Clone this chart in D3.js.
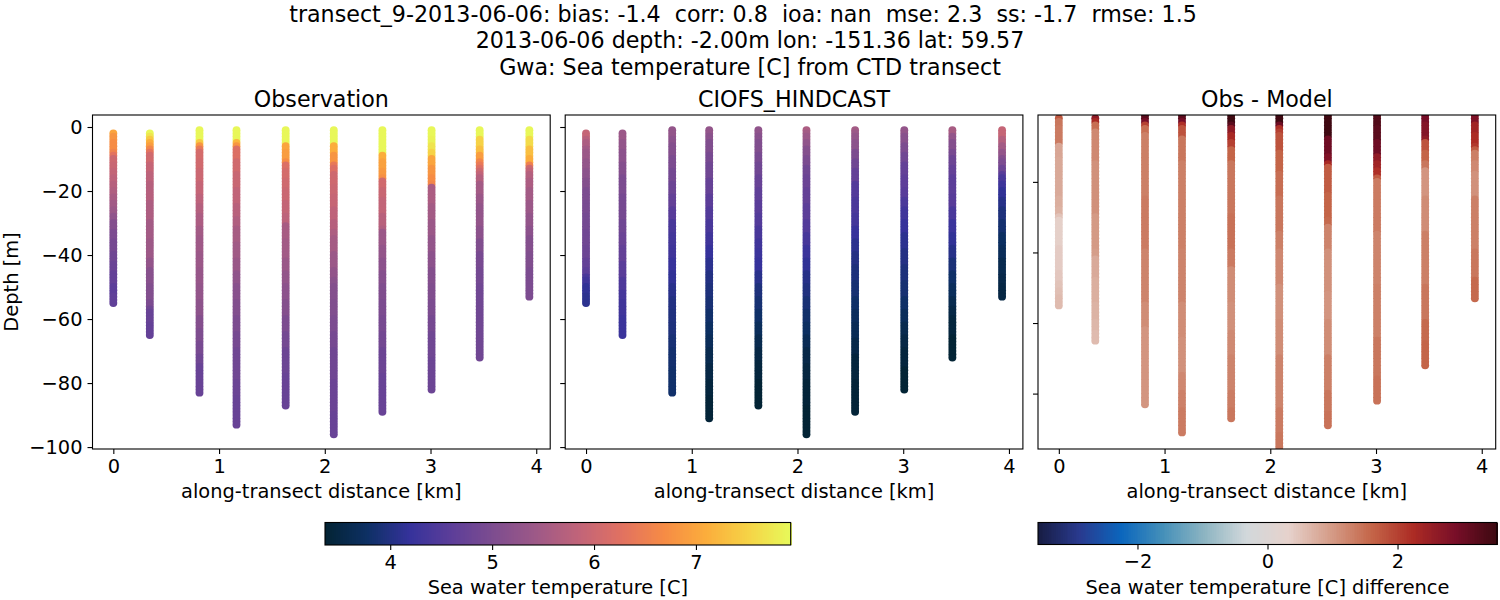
<!DOCTYPE html>
<html><head><meta charset="utf-8">
<script src="https://cdn.jsdelivr.net/npm/d3@7/dist/d3.min.js"></script>
<style>html,body{margin:0;padding:0;background:#fff}svg text{font-family:"DejaVu Sans";fill:#000}</style>
</head><body><svg id="c" width="1500" height="600"></svg>
<script>
const titleLines = ["transect_9-2013-06-06: bias: -1.4  corr: 0.8  ioa: nan  mse: 2.3  ss: -1.7  rmse: 1.5","2013-06-06 depth: -2.00m lon: -151.36 lat: 59.57","Gwa: Sea temperature [C] from CTD transect"];
const panelTitles = ["Observation","CIOFS_HINDCAST","Obs - Model"];
const stationKm = [0,0.345,0.815,1.165,1.63,2.085,2.545,3.01,3.465,3.935];
const xTicks = [0,1,2,3,4];
const yTicks = [0,-20,-40,-60,-80,-100];
const diffYTicks = [-20,-40,-60,-80];
const tempTicks = [4,5,6,7];
const diffTicks = [-2,0,2];
const thermalStops = ["rgb(3,35,51)","rgb(13,48,100)","rgb(53,50,155)","rgb(93,62,153)","rgb(126,77,143)","rgb(158,89,135)","rgb(193,100,121)","rgb(225,113,97)","rgb(246,139,69)","rgb(251,173,60)","rgb(246,211,70)","rgb(231,250,90)"];
const balanceStops = ["rgb(23,28,66)","rgb(41,58,143)","rgb(11,102,189)","rgb(69,144,185)","rgb(142,181,194)","rgb(210,216,219)","rgb(230,210,204)","rgb(213,157,137)","rgb(196,101,72)","rgb(172,43,36)","rgb(120,14,40)","rgb(60,9,17)"];
// station profiles: [depth from which the reading holds, value]
const topDepth = [2,2,1,1,1,1,1,1,1,1];
const obsBottom = [55,65,83,93,87,96,89,82,72,53];
const modelBottom = [55,65,83,91,87,96,89,82,72,53];
const diffBottom = [55,65,83,91,87,96,89,82,72,53];
const obsProfiles = [
[[2,7.0],[3,6.8],[5,6.7],[8,6.55],[9,6.3],[10,6.0],[12,5.95],[14,5.88],[16,5.8],[18,5.72],[20,5.65],[22,5.56],[24,5.48],[26,5.4],[28,5.25],[30,5.1],[33,5.0],[36,4.92],[40,4.85],[43,4.78],[46,4.7],[50,4.6],[53,4.65]],
[[2,7.9],[3,7.7],[4,7.4],[5,7.1],[6,6.9],[7,6.6],[8,6.3],[9,6.05],[12,5.9],[15,5.8],[18,5.72],[24,5.62],[30,5.5],[36,5.42],[42,5.3],[45,5.15],[50,5.08],[55,5.0],[57,4.85],[58,4.75],[62,4.7]],
[[1,7.9],[5,7.4],[6,6.8],[7,6.4],[8,6.1],[11,6.05],[14,5.98],[18,5.9],[22,5.8],[25,5.7],[28,5.6],[32,5.5],[35,5.45],[40,5.4],[45,5.35],[50,5.3],[55,5.22],[60,5.1],[64,5.02],[68,4.95],[72,4.85],[75,4.75]],
[[1,7.9],[5,7.2],[6,6.8],[7,6.2],[11,6.05],[15,5.95],[20,5.85],[25,5.75],[29,5.65],[32,5.55],[37,5.47],[42,5.38],[46,5.25],[50,5.15],[55,5.08],[60,5.0],[65,4.92],[70,4.85],[80,4.78],[85,4.75]],
[[1,7.9],[6,7.0],[8,6.9],[11,6.7],[12,6.2],[14,6.1],[17,6.03],[20,5.97],[24,5.88],[28,5.8],[31,5.55],[36,5.48],[42,5.38],[46,5.3],[50,5.2],[55,5.1],[60,5.0],[65,4.9],[70,4.8],[78,4.75]],
[[1,7.9],[6,7.1],[9,6.8],[12,6.4],[13,6.2],[15,6.02],[19,5.97],[22,5.92],[26,5.83],[30,5.72],[33,5.62],[35,5.52],[40,5.4],[45,5.28],[48,5.18],[50,5.1],[55,5.05],[60,5.0],[65,4.92],[70,4.85],[80,4.78],[90,4.75]],
[[1,7.9],[9,7.1],[11,6.95],[14,6.85],[16,6.75],[17,6.05],[20,5.95],[23,5.87],[28,5.75],[32,5.65],[33,5.4],[38,5.3],[42,5.2],[46,5.12],[50,5.05],[55,5.0],[60,4.95],[65,4.88],[70,4.8],[78,4.75]],
[[1,7.9],[4,7.85],[6,7.7],[8,7.5],[10,7.0],[13,6.8],[16,6.7],[18,6.6],[19,5.6],[25,5.5],[30,5.4],[35,5.3],[40,5.2],[45,5.1],[50,5.05],[55,5.0],[60,4.92],[65,4.85],[73,4.8]],
[[1,7.9],[4,7.5],[7,7.3],[9,6.9],[11,6.6],[12,6.4],[13,6.2],[14,6.0],[15,5.85],[16,5.7],[18,5.5],[22,5.38],[25,5.3],[32,5.2],[36,5.05],[40,4.95],[45,4.9],[50,4.85]],
[[1,7.9],[4,7.6],[7,7.3],[10,7.1],[12,6.5],[13,6.0],[14,5.85],[15,5.7],[17,5.6],[20,5.5],[24,5.4],[28,5.3],[32,5.2],[35,5.1],[40,5.05],[45,5.0]]
];
const modelProfiles = [
[[2,5.9],[4,5.75],[5,5.6],[7,5.48],[8,5.4],[11,5.3],[14,5.2],[17,5.1],[20,5.0],[24,4.95],[28,4.9],[33,4.85],[38,4.8],[42,4.7],[45,4.6],[47,4.4],[48,4.3],[50,4.15],[53,4.1]],
[[2,5.4],[5,5.3],[8,5.2],[12,5.1],[16,5.0],[22,4.92],[30,4.85],[34,4.78],[38,4.7],[43,4.58],[48,4.45],[52,4.37],[55,4.3],[60,4.25]],
[[1,5.3],[4,5.2],[6,5.1],[10,5.0],[14,4.9],[18,4.8],[22,4.7],[26,4.55],[30,4.4],[34,4.35],[38,4.3],[42,4.22],[46,4.15],[50,4.07],[54,4.0],[58,3.97],[62,3.95],[66,3.9],[70,3.85],[76,3.82]],
[[1,5.3],[3,5.18],[5,5.05],[9,4.95],[12,4.85],[17,4.72],[22,4.6],[26,4.5],[30,4.4],[34,4.3],[38,4.2],[42,4.1],[46,4.0],[50,3.95],[54,3.9],[58,3.82],[62,3.75],[66,3.68],[70,3.6],[75,3.52],[80,3.45],[85,3.4]],
[[1,5.25],[3,5.15],[5,5.05],[9,4.95],[12,4.85],[16,4.75],[20,4.65],[24,4.58],[28,4.5],[32,4.4],[36,4.3],[39,4.25],[42,4.2],[46,4.07],[50,3.95],[54,3.88],[58,3.8],[62,3.7],[66,3.6],[70,3.52],[74,3.45],[80,3.38]],
[[1,5.6],[2,5.5],[3,5.4],[5,5.25],[7,5.1],[10,4.98],[13,4.85],[16,4.78],[20,4.7],[25,4.6],[30,4.5],[34,4.38],[38,4.25],[42,4.15],[46,4.05],[50,3.98],[54,3.9],[58,3.82],[62,3.75],[66,3.65],[70,3.55],[75,3.48],[80,3.42],[88,3.38]],
[[1,5.5],[2,5.4],[3,5.3],[5,5.2],[8,5.0],[11,4.85],[14,4.7],[18,4.5],[23,4.42],[28,4.35],[32,4.22],[36,4.1],[40,4.02],[44,3.95],[49,3.88],[54,3.8],[58,3.72],[62,3.65],[67,3.55],[72,3.45],[80,3.4]],
[[1,5.3],[3,5.15],[6,5.0],[9,4.85],[12,4.7],[16,4.62],[20,4.55],[23,4.42],[26,4.3],[30,4.2],[34,4.1],[39,4.02],[44,3.95],[49,3.88],[54,3.8],[58,3.7],[62,3.6],[66,3.52],[70,3.45],[76,3.38]],
[[1,5.55],[3,5.3],[5,5.1],[8,4.95],[10,4.8],[13,4.7],[16,4.6],[22,4.55],[26,4.4],[30,4.25],[34,4.15],[38,4.05],[42,3.92],[46,3.8],[50,3.7],[54,3.6],[57,3.52],[60,3.45],[66,3.38]],
[[1,5.9],[4,5.7],[6,5.5],[8,5.3],[10,5.1],[11,5.0],[13,4.8],[15,4.55],[16,4.4],[18,4.28],[20,4.15],[23,4.05],[26,3.95],[30,3.85],[34,3.75],[38,3.68],[42,3.6],[47,3.55],[50,3.5]]
];
const diffProfiles = [
[[1,1.75],[3,1.4],[5,1.35],[10,0.85],[14,0.82],[20,0.8],[25,0.75],[28,0.7],[30,0.5],[31,0.35],[39,0.4],[46,0.45],[49,0.5],[51,0.55],[53,0.6]],
[[1,2.9],[2,2.6],[3,2.3],[4,1.5],[6,1.2],[15,1.1],[30,1.0],[40,0.95],[42,0.8],[48,0.75],[55,0.7],[60,0.65],[63,0.6]],
[[1,3.4],[2,3.2],[3,2.9],[4,2.0],[5,1.5],[7,1.3],[25,1.35],[40,1.25],[55,1.15],[62,1.05]],
[[1,3.4],[2,3.2],[3,2.9],[4,2.2],[5,1.8],[8,1.4],[15,1.3],[40,1.25],[55,1.15],[65,1.1],[75,1.2],[80,1.28],[85,1.35]],
[[1,3.5],[4,3.2],[5,2.6],[7,2.3],[9,2.0],[11,1.6],[15,1.4],[30,1.45],[40,1.35],[45,1.15],[55,1.1],[63,1.18],[70,1.25],[80,1.33],[85,1.4]],
[[1,3.5],[4,3.0],[5,2.2],[6,2.0],[7,1.8],[12,1.6],[18,1.5],[25,1.4],[35,1.3],[40,1.2],[50,1.1],[60,1.15],[70,1.25],[85,1.35],[92,1.4]],
[[1,3.5],[8,3.0],[13,2.8],[15,2.3],[16,1.7],[24,1.6],[31,1.55],[33,1.25],[40,1.1],[52,1.05],[60,1.15],[70,1.3],[80,1.4],[86,1.45]],
[[1,3.3],[5,3.2],[9,3.0],[13,2.6],[15,2.4],[17,2.2],[19,1.7],[20,1.35],[35,1.25],[50,1.3],[65,1.4],[76,1.45]],
[[1,2.9],[4,2.75],[8,2.6],[9,1.8],[12,1.6],[15,1.4],[17,1.05],[25,1.15],[35,1.3],[50,1.4],[60,1.55],[66,1.6]],
[[1,2.8],[4,2.4],[7,2.25],[10,2.1],[11,1.7],[12,1.3],[15,1.2],[18,1.1],[25,1.3],[40,1.4],[48,1.55]]
];

const svg = d3.select("#c");
const PW = 457.7, PT = 115, PB = 449, PX = [92.5,565.2,1038];
const thermal = d3.scaleLinear().domain(d3.range(12).map(i=>3.36+i*(7.93-3.36)/11)).range(thermalStops).clamp(true);
const balance = d3.scaleLinear().domain(d3.range(12).map(i=>-3.53+i*7.06/11)).range(balanceStops).clamp(true);
const TICK = "19.4px", LAB = "19.4px", HEAD = "22.2px";

titleLines.forEach((t,i)=>svg.append("text").attr("x",[743,750,750][i]).attr("y",[22,48,75][i]).attr("text-anchor","middle").style("font-size",HEAD).style("white-space","pre").attr("xml:space","preserve").text(t));

const panels = [
 {prof:obsProfiles,bottom:obsBottom,color:thermal,dom:[-100.6,3.75],ticks:yTicks,labels:true},
 {prof:modelProfiles,bottom:modelBottom,color:thermal,dom:[-100.6,3.75],ticks:yTicks,labels:false},
 {prof:diffProfiles,bottom:diffBottom,color:balance,dom:[-95.7,-1.05],ticks:diffYTicks,labels:false}
];
panels.forEach((p,pi)=>{
  const g = svg.append("g").attr("transform",`translate(${PX[pi]},0)`);
  const x = d3.scaleLinear().domain([-0.197,4.132]).range([0,PW]);
  const y = d3.scaleLinear().domain(p.dom).range([PB,PT]);
  const id = "clip"+pi;
  g.append("clipPath").attr("id",id).append("rect").attr("x",0).attr("y",PT).attr("width",PW).attr("height",PB-PT);
  const marks = g.append("g").attr("clip-path",`url(#${id})`);
  stationKm.forEach((km,s)=>{
    const runs = p.prof[s];
    const pts = d3.range(topDepth[s],p.bottom[s]+1).map(d=>{
      let i = d3.bisectRight(runs.map(r=>r[0]),d)-1;
      return {d,v:runs[Math.max(i,0)][1]};
    });
    marks.selectAll(null).data(pts).enter().append("circle")
      .attr("cx",x(km)).attr("cy",q=>y(-q.d)).attr("r",3.95).attr("fill",q=>p.color(q.v));
  });
  g.append("rect").attr("x",0).attr("y",PT).attr("width",PW).attr("height",PB-PT).attr("fill","none").attr("stroke","#000").attr("stroke-width",1.1);
  const ax = g.append("g").attr("transform",`translate(0,${PB})`).call(d3.axisBottom(x).tickValues(xTicks).tickFormat(d3.format("d")).tickSize(5).tickPadding(5));
  const ay = g.append("g").call(d3.axisLeft(y).tickValues(p.ticks).tickSize(5).tickPadding(5).tickFormat(p.labels?(v=>String(v).replace("-","\u2212")):""));
  [ax,ay].forEach(a=>{a.select(".domain").remove();a.selectAll("line").attr("stroke","#000").attr("stroke-width",1.1);a.selectAll("text").style("font-size",TICK).style("font-family","DejaVu Sans");});
  g.append("text").attr("x",PW/2).attr("y",107).attr("text-anchor","middle").style("font-size",HEAD).text(panelTitles[pi]);
  g.append("text").attr("x",PW/2).attr("y",498).attr("text-anchor","middle").style("font-size",LAB).text("along-transect distance [km]");
});
svg.append("text").attr("transform","translate(18,282) rotate(-90)").attr("text-anchor","middle").style("font-size",LAB).text("Depth [m]");

function colorbar(x0,x1,y0,y1,dom,cs,ticks,label){
  const g = svg.append("g");
  const x = d3.scaleLinear().domain(dom).range([x0,x1]);
  const n = 256, vals = d3.range(n).map(i=>dom[0]+(i+0.5)*(dom[1]-dom[0])/n);
  const w = (x1-x0)/n;
  g.selectAll(null).data(vals).enter().append("rect").attr("x",v=>x(v)-w/2).attr("y",y0).attr("width",w+1).attr("height",y1-y0).attr("fill",v=>cs(v)).attr("shape-rendering","crispEdges");
  g.append("rect").attr("x",x0).attr("y",y0).attr("width",x1-x0).attr("height",y1-y0).attr("fill","none").attr("stroke","#000").attr("stroke-width",1.1);
  const a = g.append("g").attr("transform",`translate(0,${y1})`).call(d3.axisBottom(x).tickValues(ticks).tickSize(5).tickPadding(5).tickFormat(v=>String(v).replace("-","\u2212")));
  a.select(".domain").remove();a.selectAll("line").attr("stroke","#000").attr("stroke-width",1.1);a.selectAll("text").style("font-size",TICK).style("font-family","DejaVu Sans");
  g.append("text").attr("x",(x0+x1)/2).attr("y",594).attr("text-anchor","middle").style("font-size",LAB).text(label);
}
colorbar(325,790.7,522.5,545,[3.36,7.93],thermal,tempTicks,"Sea water temperature [C]");
colorbar(1038,1497,522.5,544.5,[-3.53,3.53],balance,diffTicks,"Sea water temperature [C] difference");
</script></body></html>
